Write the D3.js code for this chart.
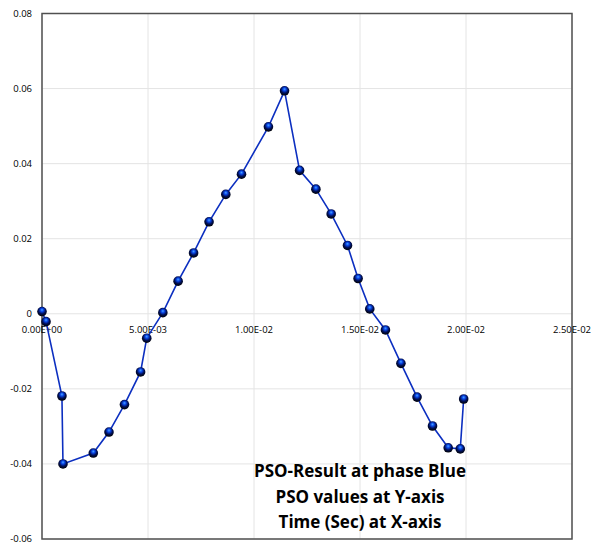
<!DOCTYPE html>
<html>
<head>
<meta charset="utf-8">
<script src="https://d3js.org/d3.v7.min.js"></script>
<style>
    body { margin: 0; background: #fff; }
    .tick-label { font-family: "Open Sans", sans-serif; font-size: 9.5px; fill: #000; }
    .note { font-family: "Open Sans", sans-serif; font-size: 17px; font-weight: bold; fill: #000; }
</style>
</head>
<body>
<div id="chart"></div>
<script>
// Time (sec) for every PSO sample.
var timeValues = [
    0.0, 0.00019, 0.00094, 0.00099, 0.00242, 0.00316, 0.00389, 0.00465,
    0.00494, 0.0057, 0.00642, 0.00715, 0.00788, 0.00867, 0.00941, 0.01068,
    0.01144, 0.01215, 0.01292, 0.01364, 0.01441, 0.01491, 0.01546, 0.0162,
    0.01693, 0.01769, 0.01842, 0.01916, 0.01973, 0.01989
];

// PSO values at phase Blue.
var psoValues = [
    0.0006, -0.0021, -0.0219, -0.0400, -0.0371, -0.0315, -0.0242, -0.0155,
    -0.0065, 0.0003, 0.0087, 0.0162, 0.0245, 0.0318, 0.0372, 0.0498,
    0.0594, 0.0382, 0.0332, 0.0266, 0.0182, 0.0094, 0.0013, -0.0043,
    -0.0132, -0.0222, -0.0299, -0.0357, -0.0360, -0.0227
];

var xTicks = [0, 0.005, 0.01, 0.015, 0.02, 0.025];
var xTickLabels = ["0.00E+00", "5.00E-03", "1.00E-02", "1.50E-02", "2.00E-02", "2.50E-02"];
var yTicks = [-0.06, -0.04, -0.02, 0, 0.02, 0.04, 0.06, 0.08];
var yTickLabels = ["-0.06", "-0.04", "-0.02", "0", "0.02", "0.04", "0.06", "0.08"];

var noteLines = ["PSO-Result at phase Blue", "PSO values at Y-axis", "Time (Sec) at X-axis"];

// Dimensions of the page and plot area.
var width = 592;
var height = 544;
var m = { left: 42, right: 20, top: 13.5, bottom: 5 };

var x = d3.scaleLinear().domain([0, 0.025]).range([m.left, width - m.right]);
var y = d3.scaleLinear().domain([-0.06, 0.08]).range([height - m.bottom, m.top]);

var svg = d3.select("#chart")
    .append("svg")
    .attr("width", width)
    .attr("height", height);

// Sphere look for the markers: dark ball with a blue highlight.
var grad = svg.append("defs").append("radialGradient")
    .attr("id", "ball")
    .attr("cx", "50%").attr("cy", "40%").attr("r", "60%")
    .attr("fx", "50%").attr("fy", "32%");
grad.append("stop").attr("offset", "0%").attr("stop-color", "#4aa8ff");
grad.append("stop").attr("offset", "28%").attr("stop-color", "#0a46e8");
grad.append("stop").attr("offset", "60%").attr("stop-color", "#00105a");
grad.append("stop").attr("offset", "100%").attr("stop-color", "#000");

// Gridlines
svg.append("g")
    .selectAll("line")
    .data(xTicks)
    .enter().append("line")
    .attr("x1", function(d) { return x(d); })
    .attr("x2", function(d) { return x(d); })
    .attr("y1", y(0.08))
    .attr("y2", y(-0.06))
    .style("stroke", "#e4e4e4")
    .style("stroke-width", 1);

svg.append("g")
    .selectAll("line")
    .data(yTicks)
    .enter().append("line")
    .attr("x1", x(0))
    .attr("x2", x(0.025))
    .attr("y1", function(d) { return y(d); })
    .attr("y2", function(d) { return y(d); })
    .style("stroke", "#e4e4e4")
    .style("stroke-width", 1);

// Plot frame
svg.append("rect")
    .attr("x", x(0))
    .attr("y", y(0.08))
    .attr("width", x(0.025) - x(0))
    .attr("height", y(-0.06) - y(0.08))
    .style("fill", "none")
    .style("stroke", "#505050")
    .style("stroke-width", 1.5);

// Tick labels
svg.append("g")
    .selectAll("text")
    .data(yTicks)
    .enter().append("text")
    .attr("class", "tick-label")
    .attr("x", x(0) - 10)
    .attr("y", function(d) { return y(d); })
    .attr("dy", "0.35em")
    .attr("text-anchor", "end")
    .text(function(d, i) { return yTickLabels[i]; });

svg.append("g")
    .selectAll("text")
    .data(xTicks)
    .enter().append("text")
    .attr("class", "tick-label")
    .attr("x", function(d) { return x(d); })
    .attr("y", y(0) + 19)
    .attr("text-anchor", "middle")
    .text(function(d, i) { return xTickLabels[i]; });

// Series line and markers
var points = timeValues.map(function(t, i) { return [t, psoValues[i]]; });

var line = d3.line()
    .x(function(d) { return x(d[0]); })
    .y(function(d) { return y(d[1]); });

svg.append("path")
    .datum(points)
    .attr("d", line)
    .style("fill", "none")
    .style("stroke", "#0c2fc0")
    .style("stroke-width", 1.6);

svg.append("g")
    .selectAll("circle")
    .data(points)
    .enter().append("circle")
    .attr("cx", function(d) { return x(d[0]); })
    .attr("cy", function(d) { return y(d[1]); })
    .attr("r", 4.8)
    .style("fill", "url(#ball)");

// Annotation text
svg.append("g")
    .selectAll("text")
    .data(noteLines)
    .enter().append("text")
    .attr("class", "note")
    .attr("x", 360)
    .attr("y", function(d, i) { return 477 + i * 25.5; })
    .attr("text-anchor", "middle")
    .text(function(d) { return d; });
</script>
</body>
</html>
